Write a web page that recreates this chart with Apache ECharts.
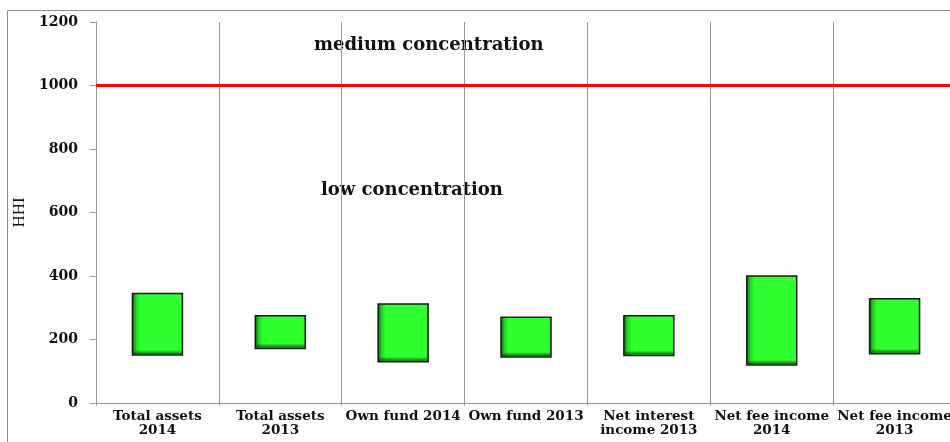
<!DOCTYPE html>
<html>
<head>
<meta charset="utf-8">
<script src="https://cdn.jsdelivr.net/npm/echarts@6/dist/echarts.min.js"></script>
<style>
  html, body { margin: 0; padding: 0; background: #fff; }
  #chart { width: 950px; height: 442px; }
</style>
</head>
<body>
<div id="chart"></div>
<script>
// HHI ranges per indicator (low / high end of each floating bar)
const categories = [
  'Total assets\n2014',
  'Total assets\n2013',
  'Own fund 2014',
  'Own fund 2013',
  'Net interest\nincome 2013',
  'Net fee income\n2014',
  'Net fee income\n2013'
];
const lowValues  = [151, 172, 130, 145, 150, 120, 155];
const highValues = [345, 275, 312, 270, 275, 400, 328];
const yTicks = [0, 200, 400, 600, 800, 1000, 1200];
const thresholdValue = 1000;

const chart = echarts.init(document.getElementById('chart'), null, { renderer: 'canvas' });

const serifBold = { fontFamily: 'DejaVu Serif', fontWeight: 'bold', color: '#111' };

function renderRange(params, api) {
  const i = api.value(0);
  const lo = api.coord([i, api.value(1)]);
  const hi = api.coord([i, api.value(2)]);
  const w = 50;
  const x = lo[0] - w / 2;
  const y = hi[1];
  const h = lo[1] - hi[1];
  return {
    type: 'group',
    children: [
      {
        type: 'rect',
        shape: { x: x, y: y, width: w, height: h },
        style: {
          fill: new echarts.graphic.LinearGradient(0, 0, 1, 0, [
            { offset: 0, color: '#0b4a0b' },
            { offset: 0.08, color: '#1fd21f' },
            { offset: 0.16, color: '#2eff2e' },
            { offset: 0.94, color: '#2eff2e' },
            { offset: 1, color: '#27d827' }
          ]),
          stroke: '#1a1a1a',
          lineWidth: 1.5
        }
      },
      {
        type: 'rect',
        shape: { x: x + 1, y: y + h - 5, width: w - 2, height: 4 },
        style: {
          fill: new echarts.graphic.LinearGradient(0, 0, 0, 1, [
            { offset: 0, color: 'rgba(20,90,20,0)' },
            { offset: 1, color: 'rgba(10,60,10,0.8)' }
          ])
        },
        silent: true
      }
    ]
  };
}

const option = {
  animation: false,
  backgroundColor: '#ffffff',
  grid: {
    left: 96, top: 22, width: 860, bottom: 39,
    containLabel: false,
    outerBoundsMode: 'none'
  },
  xAxis: {
    type: 'category',
    data: categories,
    axisLine: { show: true, lineStyle: { color: '#9a9a9a', width: 1 } },
    axisTick: { show: true, alignWithLabel: false, length: 3, lineStyle: { color: '#9a9a9a' } },
    splitLine: { show: true, lineStyle: { color: '#9a9a9a', width: 1 } },
    axisLabel: Object.assign({ fontSize: 13.5, lineHeight: 14, margin: 6, interval: 0, align: 'center' }, serifBold)
  },
  yAxis: {
    type: 'value',
    min: yTicks[0],
    max: yTicks[yTicks.length - 1],
    interval: 200,
    name: 'HHI',
    nameLocation: 'middle',
    nameGap: 61,
    nameRotate: 90,
    nameTextStyle: { fontFamily: 'Liberation Serif', fontSize: 17, color: '#111' },
    axisLine: { show: true, lineStyle: { color: '#9a9a9a', width: 1 } },
    axisTick: { show: true, length: 6, lineStyle: { color: '#9a9a9a' } },
    splitLine: { show: false },
    axisLabel: Object.assign({ fontSize: 14, margin: 18, formatter: (v) => String(v) }, serifBold)
  },
  graphic: [
    {
      type: 'rect',
      shape: { x: 7.5, y: 10.5, width: 960, height: 460 },
      style: { fill: 'none', stroke: '#8c8c8c', lineWidth: 1 },
      z: -1
    },
    {
      type: 'text',
      left: 314, top: 36,
      style: Object.assign({ text: 'medium concentration', fontSize: 18 }, serifBold, { fill: '#111' })
    },
    {
      type: 'text',
      left: 321, top: 181,
      style: Object.assign({ text: 'low concentration', fontSize: 18 }, serifBold, { fill: '#111' })
    }
  ],
  series: [
    {
      type: 'custom',
      renderItem: renderRange,
      data: categories.map((c, i) => [i, lowValues[i], highValues[i]]),
      encode: { x: 0, y: [1, 2] },
      z: 3,
      markLine: {
        silent: true,
        symbol: ['none', 'none'],
        label: { show: false },
        lineStyle: { color: '#ff0000', width: 3, type: 'solid' },
        data: [{ yAxis: thresholdValue }]
      }
    }
  ]
};

chart.setOption(option);
</script>
</body>
</html>
